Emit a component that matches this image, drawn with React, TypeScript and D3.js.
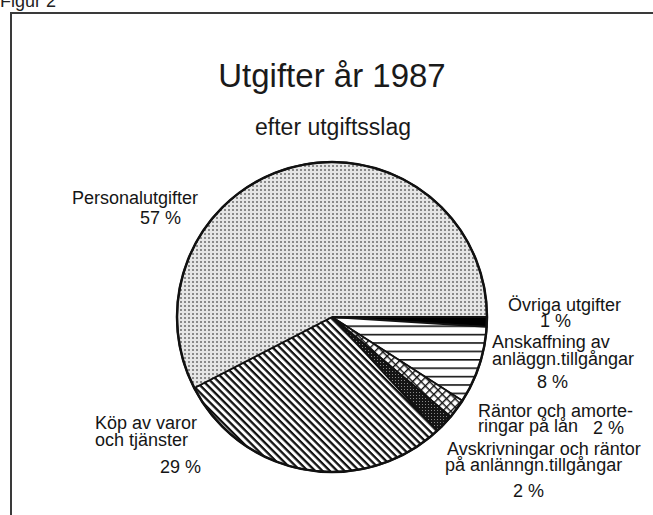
import React from 'react';
import * as d3 from 'd3';

// utgiftsslag, medurs från klockan tre
const categories = [
  'Övriga utgifter',
  'Anskaffning av anläggn.tillgångar',
  'Räntor och amorteringar på lån',
  'Avskrivningar och räntor på anlänngn.tillgångar',
  'Köp av varor och tjänster',
  'Personalutgifter',
];
const shares = [1, 8, 2, 2, 29, 57];
const shareLabels = ['1 %', '8 %', '2 %', '2 %', '29 %', '57 %'];
const fills = ['#000', 'url(#hlines)', 'url(#cross)', 'url(#dark)', 'url(#diag)', 'url(#dots)'];

// label lines (text, x, baseline) per slice
const labelLayout: [string, number, number][][] = [
  [['Övriga utgifter', 508, 311], ['1 %', 540, 327]],
  [['Anskaffning av', 492, 348], ['anläggn.tillgångar', 492, 365], ['8 %', 537, 388]],
  [['Räntor och amorte-', 478, 417], ['ringar på lån', 478, 432], ['2 %', 593, 434]],
  [['Avskrivningar och räntor', 447, 455], ['på anlänngn.tillgångar', 445, 471], ['2 %', 513, 497]],
  [['Köp av varor', 95, 429], ['och tjänster', 95, 446], ['29 %', 160, 473]],
  [['Personalutgifter', 72, 204], ['57 %', 140, 224]],
];

const width = 653;
const height = 515;
const cx = 332;
const cy = 317;
const radius = 155;

const App = () => {
  const pie = d3.pie<number>()
    .sort(null)
    .startAngle(Math.PI / 2)
    .endAngle(Math.PI / 2 + 2 * Math.PI);
  const arcs = pie(shares);
  const arc = d3.arc<d3.PieArcDatum<number>>().innerRadius(0).outerRadius(radius);

  return (
    <svg width={width} height={height} style={{ position: 'absolute', left: 0, top: 0 }}
      fontFamily="'Liberation Sans', Arial, sans-serif">
      <defs>
        <pattern id="dots" width={4} height={4} patternUnits="userSpaceOnUse">
          <rect width={4} height={4} fill="#e6e6e6" />
          <rect width={2} height={2} fill="#8a8a8a" />
        </pattern>
        <pattern id="diag" width={5.2} height={5.2} patternUnits="userSpaceOnUse" patternTransform="rotate(45)">
          <rect width={5.2} height={5.2} fill="#fff" />
          <rect width={5.2} height={2.3} fill="#111" />
        </pattern>
        <pattern id="hlines" width={8} height={8.4} patternUnits="userSpaceOnUse">
          <rect width={8} height={8.4} fill="#fff" />
          <rect width={8} height={1.6} fill="#111" />
        </pattern>
        <pattern id="cross" width={6} height={6} patternUnits="userSpaceOnUse" patternTransform="rotate(45)">
          <rect width={6} height={6} fill="#fff" />
          <rect width={6} height={1.4} fill="#111" />
          <rect width={1.4} height={6} fill="#111" />
        </pattern>
        <pattern id="dark" width={3} height={3} patternUnits="userSpaceOnUse">
          <rect width={3} height={3} fill="#151515" />
          <rect width={1} height={1} fill="#8a8a8a" />
        </pattern>
      </defs>

      <rect width={width} height={height} fill="#fff" />
      <text x={0} y={7} fontSize={18} fill="#222">Figur 2</text>
      <path d={`M11,${height} V13 H${width}`} fill="none" stroke="#3a3a3a" strokeWidth={2} />

      <text x={332} y={87} textAnchor="middle" fontSize={33} fill="#1a1a1a">Utgifter år 1987</text>
      <text x={333} y={135} textAnchor="middle" fontSize={23} fill="#1a1a1a">efter utgiftsslag</text>

      <g transform={`translate(${cx},${cy})`}>
        {arcs.map((d, i) => (
          <path key={categories[i]} d={arc(d) || ''} fill={fills[i]} stroke="#111" strokeWidth={1.8}
            strokeLinejoin="round" />
        ))}
        <circle r={radius} fill="none" stroke="#111" strokeWidth={2.5} />
      </g>

      {labelLayout.map((lines, i) => (
        <g key={categories[i]} fontSize={18} fill="#151515">
          {lines.map(([t, x, y], j) => (
            <text key={j} x={x} y={y}>{j === lines.length - 1 ? shareLabels[i] : t}</text>
          ))}
        </g>
      ))}
    </svg>
  );
};

export default App;
